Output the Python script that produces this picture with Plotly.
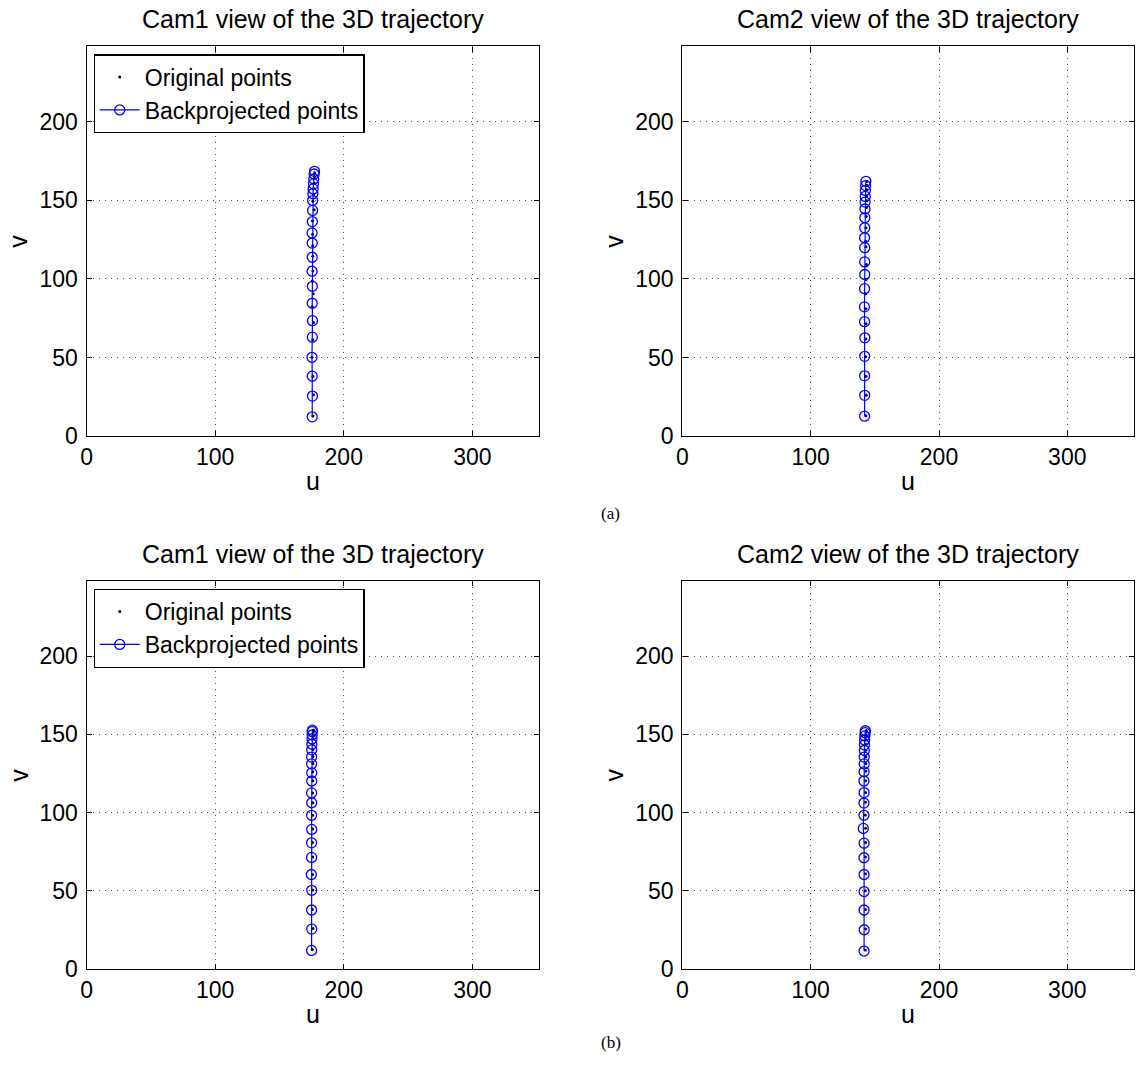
import plotly.graph_objects as go

# ---------------- data ----------------
# (a) Cam1
a1_orig_u = [176.0, 176.5, 176.0, 175.3, 176.0, 176.5, 175.5, 176.2, 175.6, 176.0, 176.0, 175.8, 175.8, 175.7, 177.0, 176.0, 176.5, 176.8, 177.0, 177.2, 177.4]
a1_orig_v = [12.8, 26.3, 38.1, 50.1, 61.3, 72.3, 82.2, 90.6, 98.6, 105.0, 114.4, 121.1, 128.5, 136.9, 144.0, 149.5, 153.5, 157.5, 161.0, 165.0, 167.5]
a1_bp_u = [175.5, 175.7, 175.5, 175.3, 175.6, 175.7, 175.5, 175.6, 175.4, 175.5, 175.5, 175.4, 175.6, 175.8, 175.8, 176.0, 176.2, 176.5, 176.7, 177.0, 177.3]
a1_bp_v = [12.2, 25.4, 38.1, 50.1, 62.9, 73.4, 84.5, 95.3, 104.9, 113.8, 122.8, 129.3, 136.5, 143.6, 149.9, 154.2, 157.3, 160.5, 163.6, 166.8, 168.5]

# (a) Cam2
a2_orig_u = [143.0, 143.2, 143.0, 142.8, 143.0, 143.1, 143.0, 142.9, 143.2, 143.4, 143.0, 142.8, 143.0, 143.2, 143.4, 143.6, 143.5, 143.6, 143.7, 143.8]
a2_orig_v = [12.9, 25.9, 38.0, 50.5, 61.8, 71.4, 81.0, 90.5, 99.7, 109.1, 120.5, 124.0, 132.5, 139.7, 145.5, 149.8, 152.8, 156.8, 159.6, 162.0]
a2_bp_u = [142.0, 142.1, 142.0, 142.1, 142.2, 142.0, 141.9, 142.0, 142.1, 142.1, 142.1, 142.0, 142.1, 142.2, 142.3, 142.4, 142.5, 142.6, 142.8, 143.0]
a2_bp_v = [12.6, 25.9, 38.3, 50.7, 62.5, 72.8, 82.2, 93.8, 102.8, 110.8, 119.9, 126.2, 132.5, 139.0, 144.5, 148.9, 152.5, 156.3, 159.4, 162.1]

# (b) Cam1
b1_orig_u = [175.5, 176.0, 175.6, 176.0, 175.8, 175.9, 175.7, 175.8, 175.8, 176.0, 175.8, 176.0, 175.9, 176.0, 176.0, 176.1, 176.0, 176.2, 176.3, 176.4, 176.5]
b1_orig_v = [12.6, 26.0, 38.2, 50.6, 60.5, 71.6, 81.0, 89.5, 98.3, 106.3, 112.6, 120.4, 126.1, 131.4, 135.9, 140.3, 143.9, 147.3, 149.8, 151.8, 152.8]
b1_bp_u = [175.0, 175.1, 175.0, 175.1, 174.8, 175.0, 175.0, 175.1, 175.0, 175.1, 175.0, 175.1, 175.1, 175.0, 175.0, 175.1, 175.2, 175.3, 175.4, 175.5, 175.6]
b1_bp_v = [12.0, 25.6, 37.8, 50.4, 60.5, 71.4, 80.7, 89.3, 98.3, 106.3, 112.6, 120.2, 125.4, 131.1, 135.5, 140.1, 143.7, 147.1, 149.6, 151.7, 152.7]

# (b) Cam2
b2_orig_u = [142.6, 142.8, 142.6, 142.6, 142.7, 142.6, 142.8, 142.8, 142.6, 142.7, 142.8, 142.8, 142.9, 142.9, 143.0, 143.0, 143.1, 143.1, 143.2, 143.2, 143.3]
b2_orig_v = [12.2, 25.6, 38.2, 50.1, 60.9, 71.6, 80.9, 90.1, 98.5, 106.6, 112.9, 120.4, 126.4, 131.4, 135.7, 139.9, 143.5, 146.6, 149.2, 151.3, 152.5]
b2_bp_u = [141.6, 141.7, 141.6, 141.6, 141.6, 141.5, 141.6, 141.0, 141.5, 141.5, 141.6, 141.5, 141.6, 141.7, 141.7, 141.8, 141.9, 142.0, 142.2, 142.4, 142.6]
b2_bp_v = [11.6, 25.2, 37.8, 49.6, 60.5, 71.2, 80.5, 89.9, 98.3, 106.1, 112.8, 120.2, 126.1, 131.1, 135.5, 139.7, 143.3, 146.4, 149.0, 151.1, 152.3]

panel_titles = ["Cam1 view of the 3D trajectory", "Cam2 view of the 3D trajectory",
                "Cam1 view of the 3D trajectory", "Cam2 view of the 3D trajectory"]
x_ticks = [0, 100, 200, 300]
y_ticks = [0, 50, 100, 150, 200]
x_range = [0, 352]
y_range = [0, 248]
legend_names = ["Original points", "Backprojected points"]
sub_labels = ["(a)", "(b)"]

# ---------------- layout geometry ----------------
W, H = 1139, 1081
def px_x(a, b):
    return [a / W, b / W]
def px_y(top, bottom):
    return [1 - bottom / H, 1 - top / H]

xdoms = [px_x(81, 536), px_x(680, 1134)]
ydoms = [px_y(47, 441.3), px_y(588, 981)]

FONT = "Liberation Sans, Arial, sans-serif"
fig = go.Figure()

panels = [
    (a1_orig_u, a1_orig_v, a1_bp_u, a1_bp_v, 0, 0, "legend"),
    (a2_orig_u, a2_orig_v, a2_bp_u, a2_bp_v, 1, 0, None),
    (b1_orig_u, b1_orig_v, b1_bp_u, b1_bp_v, 0, 1, "legend2"),
    (b2_orig_u, b2_orig_v, b2_bp_u, b2_bp_v, 1, 1, None),
]

annotations = []
for i, (ou, ov, bu, bv, col, row, leg) in enumerate(panels):
    n = i + 1
    xa = "x" if n == 1 else f"x{n}"
    ya = "y" if n == 1 else f"y{n}"
    show = leg is not None
    fig.add_trace(go.Scatter(
        x=ou, y=ov, mode="markers", name=legend_names[0],
        marker=dict(color="black", size=3, symbol="circle"),
        xaxis=xa, yaxis=ya, showlegend=show, legend=leg if leg else "legend"))
    fig.add_trace(go.Scatter(
        x=bu, y=bv, mode="lines+markers", name=legend_names[1],
        line=dict(color="rgb(0,0,255)", width=1.2),
        marker=dict(color="rgb(0,0,255)", size=10, symbol="circle-open", line=dict(width=1.3)),
        xaxis=xa, yaxis=ya, showlegend=show, legend=leg if leg else "legend"))

    axcommon = dict(showline=True, linecolor="black", linewidth=1.4, mirror="allticks",
                    ticks="inside", ticklen=5, tickcolor="black", showgrid=True,
                    gridcolor="rgb(80,80,80)", griddash="1px,5px", gridwidth=1,
                    zeroline=False, tickfont=dict(family=FONT, size=23, color="black"))
    fig.layout[f"xaxis{'' if n == 1 else n}"] = dict(
        axcommon, domain=xdoms[col], range=x_range, tickvals=x_ticks,
        anchor=ya, ticklabelstandoff=0)
    fig.layout[f"yaxis{'' if n == 1 else n}"] = dict(
        axcommon, domain=ydoms[row], range=y_range, tickvals=y_ticks,
        anchor=xa, ticklabelstandoff=3)

    xc = (xdoms[col][0] + xdoms[col][1]) / 2
    annotations.append(dict(text=panel_titles[i], x=xc, y=ydoms[row][1], xref="paper", yref="paper",
                            xanchor="center", yanchor="bottom", yshift=11, showarrow=False,
                            font=dict(family=FONT, size=25, color="black")))
    annotations.append(dict(text="u", x=xc, y=ydoms[row][0], xref="paper", yref="paper",
                            xanchor="center", yanchor="top", yshift=-29, showarrow=False,
                            font=dict(family=FONT, size=25, color="black")))
    annotations.append(dict(text="v", x=xdoms[col][0], y=(ydoms[row][0] + ydoms[row][1]) / 2,
                            xref="paper", yref="paper", xanchor="center", yanchor="middle",
                            xshift=-68, textangle=-90, showarrow=False,
                            font=dict(family=FONT, size=25, color="black")))

for k, lab in enumerate(sub_labels):
    annotations.append(dict(text=lab, x=608 / W, y=1 - (520 if k == 0 else 1055) / H,
                            xref="paper", yref="paper", xanchor="center", yanchor="middle",
                            showarrow=False, font=dict(family="Liberation Serif, Times New Roman, serif",
                                                       size=17, color="black")))

legstyle = dict(xref="paper", yref="paper", xanchor="left", yanchor="top",
                bgcolor="white", bordercolor="black", borderwidth=1.2,
                font=dict(family=FONT, size=23, color="black"), itemwidth=40,
                tracegroupgap=0)
fig.update_layout(
    width=W, height=H, margin=dict(l=0, r=0, t=0, b=0),
    paper_bgcolor="white", plot_bgcolor="white",
    annotations=annotations,
    legend=dict(legstyle, x=88 / W, y=1 - 55 / H),
    legend2=dict(legstyle, x=88 / W, y=1 - 596 / H),
)

fig.write_html("out.html")
